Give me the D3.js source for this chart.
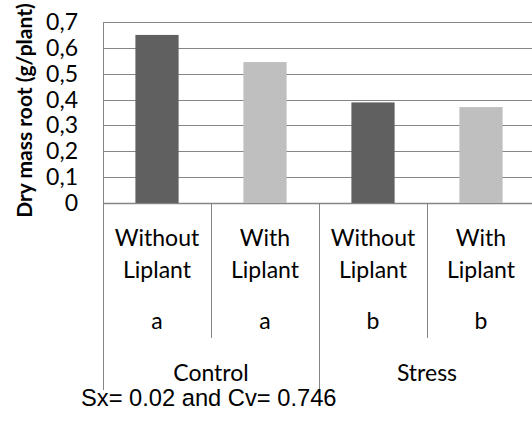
<!DOCTYPE html>
<html>
<head>
<meta charset="utf-8">
<script src="https://cdn.jsdelivr.net/npm/d3@7"></script>
<style>
  body { margin: 0; background: #fff; }
  svg { display: block; }
  .lbl { font-family: Lato, "Open Sans", sans-serif; fill: #000; }
</style>
</head>
<body>
<div id="chart"></div>
<script>
// data
const categories = ["Without Liplant", "With Liplant", "Without Liplant", "With Liplant"];
const groups = ["Control", "Stress"];
const letters = ["a", "a", "b", "b"];
const values = [0.65, 0.545, 0.389, 0.371];
const barColors = ["#606060", "#bfbfbf", "#606060", "#bfbfbf"];
const yTicks = [0, 0.1, 0.2, 0.3, 0.4, 0.5, 0.6, 0.7];

let w = 532, h = 421;
let padLeft = 103, padTop = 22, baseY = 203, plotW = 432;

var svg = d3.select("#chart").append("svg")
    .attr("width", w)
    .attr("height", h);

var x = d3.scaleBand()
    .domain(d3.range(categories.length))
    .range([padLeft, padLeft + plotW]);

var y = d3.scaleLinear()
    .domain([0, 0.7])
    .range([baseY, padTop]);

// decimal comma like the original
var fmt = d => d === 0 ? "0" : d3.format(".1f")(d).replace(".", ",");

// gridlines
svg.append("g").selectAll("line")
    .data(yTicks)
    .enter().append("line")
    .attr("x1", padLeft).attr("x2", padLeft + plotW)
    .attr("y1", d => Math.round(y(d)) + 0.5)
    .attr("y2", d => Math.round(y(d)) + 0.5)
    .attr("stroke", "#868686")
    .attr("stroke-width", d => d === 0 ? 1.5 : 1);

// y tick labels
svg.append("g").selectAll("text")
    .data(yTicks)
    .enter().append("text")
    .attr("class", "lbl")
    .attr("x", 78)
    .attr("y", d => y(d))
    .attr("dy", "0.35em")
    .attr("text-anchor", "end")
    .style("font-size", "23px")
    .text(fmt);

// bars
let barW = x.bandwidth() * 0.4;
svg.append("g").selectAll("rect")
    .data(values)
    .enter().append("rect")
    .attr("x", (d, i) => x(i) + (x.bandwidth() - barW) / 2)
    .attr("y", d => y(d))
    .attr("width", barW)
    .attr("height", d => y(0) - y(d))
    .attr("fill", (d, i) => barColors[i]);

// left axis line
svg.append("line")
    .attr("x1", padLeft + 0.5).attr("x2", padLeft + 0.5)
    .attr("y1", padTop).attr("y2", 390)
    .attr("stroke", "#868686");

// dividers between categories (short) and groups (long)
svg.append("g").selectAll("line")
    .data(d3.range(1, categories.length + 1))
    .enter().append("line")
    .attr("x1", i => Math.round(x(i) || padLeft + plotW) + 0.5)
    .attr("x2", i => Math.round(x(i) || padLeft + plotW) + 0.5)
    .attr("y1", baseY)
    .attr("y2", i => i % 2 === 0 ? 390 : 338)
    .attr("stroke", "#868686");

// category labels
let cat = svg.append("g").selectAll("g")
    .data(categories)
    .enter().append("g")
    .attr("transform", (d, i) => "translate(" + (x(i) + x.bandwidth() / 2) + ",0)");

cat.append("text").attr("class", "lbl").attr("y", 246)
    .attr("text-anchor", "middle").style("font-size", "23px")
    .text(d => d.split(" ")[0]);
cat.append("text").attr("class", "lbl").attr("y", 278)
    .attr("text-anchor", "middle").style("font-size", "23px")
    .text(d => d.split(" ")[1]);
cat.append("text").attr("class", "lbl").attr("y", 329)
    .attr("text-anchor", "middle").style("font-size", "23px")
    .text((d, i) => letters[i]);

// group labels
svg.append("g").selectAll("text")
    .data(groups)
    .enter().append("text")
    .attr("class", "lbl")
    .attr("x", (d, i) => x(i * 2) + x.bandwidth())
    .attr("y", 381)
    .attr("text-anchor", "middle")
    .style("font-size", "23px")
    .text(d => d);

// y axis title
svg.append("text")
    .attr("class", "lbl")
    .attr("transform", "translate(32," + ((padTop + baseY) / 2 - 2) + ") rotate(-90)")
    .attr("text-anchor", "middle")
    .style("font-size", "21px")
    .style("font-weight", "bold")
    .text("Dry mass root (g/plant)");

// footnote
svg.append("text")
    .attr("x", 81)
    .attr("y", 406)
    .style("font-family", "'Liberation Sans', Arial, sans-serif")
    .style("font-size", "23.7px")
    .text("Sx= 0.02 and Cv= 0.746");
</script>
</body>
</html>
